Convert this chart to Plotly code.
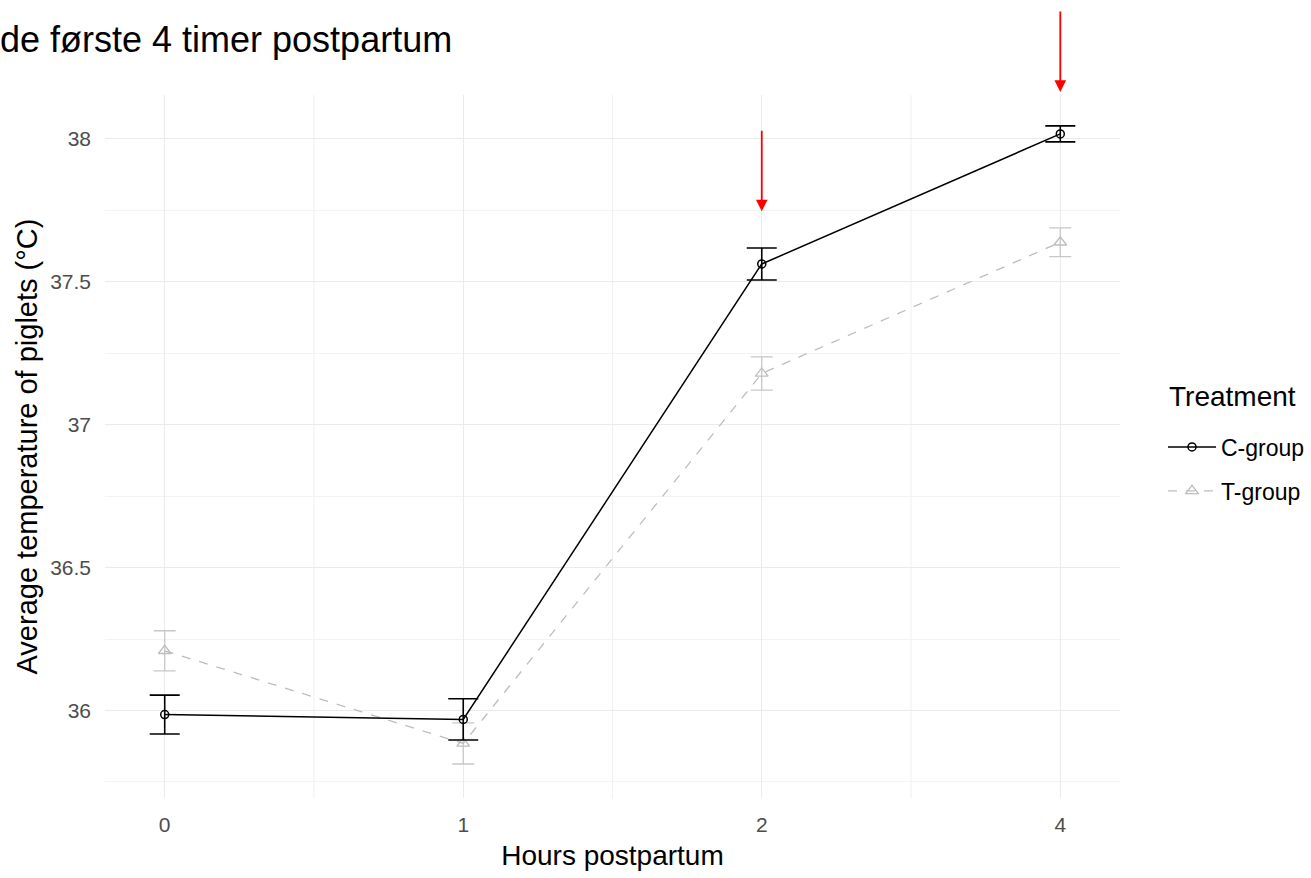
import plotly.graph_objects as go

hours = ["0", "1", "2", "4"]
c_mean = [35.986, 35.969, 37.562, 38.017]
c_se = [0.068, 0.072, 0.056, 0.028]
t_mean = [36.209, 35.885, 37.179, 37.638]
t_se = [0.070, 0.072, 0.058, 0.050]
arrow_hours = ["2", "4"]
arrow_tips_paper = [0.8345, 1.0042]
arrow_lengths_px = [-82, -82]

fig = go.Figure()
fig.add_trace(go.Scatter(
    x=hours, y=t_mean, name="T-group", mode="lines+markers", legendgroup="t", legendrank=2,
    line=dict(color="#bdbdbd", width=1.3, dash="dash"),
    marker=dict(symbol="triangle-up-open", size=11, color="#bdbdbd", line=dict(width=1.3)),
    error_y=dict(type="data", array=t_se, color="#c8c8c8", thickness=1.3, width=11),
))
fig.add_trace(go.Scatter(
    x=hours, y=c_mean, name="C-group", mode="lines+markers", legendgroup="c", legendrank=1,
    line=dict(color="black", width=1.5),
    marker=dict(symbol="circle-open", size=8, color="black", line=dict(width=1.5)),
    error_y=dict(type="data", array=c_se, color="black", thickness=1.6, width=15),
))

for xv, yv, ay in zip(arrow_hours, arrow_tips_paper, arrow_lengths_px):
    fig.add_annotation(x=hours.index(xv), y=yv, xref="x", yref="paper", ax=0, ay=ay, showarrow=True,
                       arrowhead=2, arrowsize=1.3, arrowwidth=1.8, arrowcolor="red",
                       standoff=0, text="")

for xm in [0.5, 1.5, 2.5]:
    fig.add_shape(type="line", xref="x", yref="paper", x0=xm, x1=xm, y0=0, y1=1,
                  line=dict(color="#f0f0f0", width=1), layer="below")

fig.add_annotation(text="de første 4 timer postpartum", xref="paper", yref="paper",
                   x=-107/1015, y=1 + 56/707, xanchor="left", yanchor="middle",
                   showarrow=False, font=dict(size=36, color="black", family="Liberation Sans, Arial"))

fig.add_annotation(text="Treatment", xref="paper", yref="paper",
                   x=(1167 - 105) / 1015, y=(802 - 398) / 707, xanchor="left", yanchor="middle",
                   showarrow=False, font=dict(size=28, color="black", family="Liberation Sans, Arial"))

fig.update_layout(
    width=1311, height=878,
    margin=dict(l=105, r=191, t=95, b=76),
    plot_bgcolor="white", paper_bgcolor="white",
    font=dict(family="Liberation Sans, Arial", color="#4d4d4d"),
    legend=dict(traceorder="grouped", tracegroupgap=11,
                xref="container", yref="container",
                x=1163 / 1311, xanchor="left", y=1 - 469 / 878, yanchor="middle",
                font=dict(size=23, color="black"), itemwidth=48),
    xaxis=dict(type="category", range=[-0.2, 3.2], showgrid=True, gridcolor="#ebebeb",
               gridwidth=1.2, zeroline=False, showline=False, ticks="",
               tickfont=dict(size=21, color="#4d4d4d"), ticklabelstandoff=12,
               title=dict(text="Hours postpartum", font=dict(size=28, color="black"), standoff=10)),
    yaxis=dict(range=[35.694, 38.153], dtick=0.5, tick0=36, showgrid=True, gridcolor="#ebebeb",
               gridwidth=1.2, zeroline=False, showline=False, ticks="",
               minor=dict(dtick=0.25, tick0=35.75, showgrid=True, gridcolor="#f3f3f3", gridwidth=1),
               tickfont=dict(size=21, color="#4d4d4d"), ticklabelstandoff=13,
               title=dict(text="Average temperature of piglets (°C)", font=dict(size=29, color="black"), standoff=3)),
)

fig.write_html("out.html", config={"displayModeBar": False},
               post_script="document.body.style.margin='0';document.body.style.overflow='hidden';")
